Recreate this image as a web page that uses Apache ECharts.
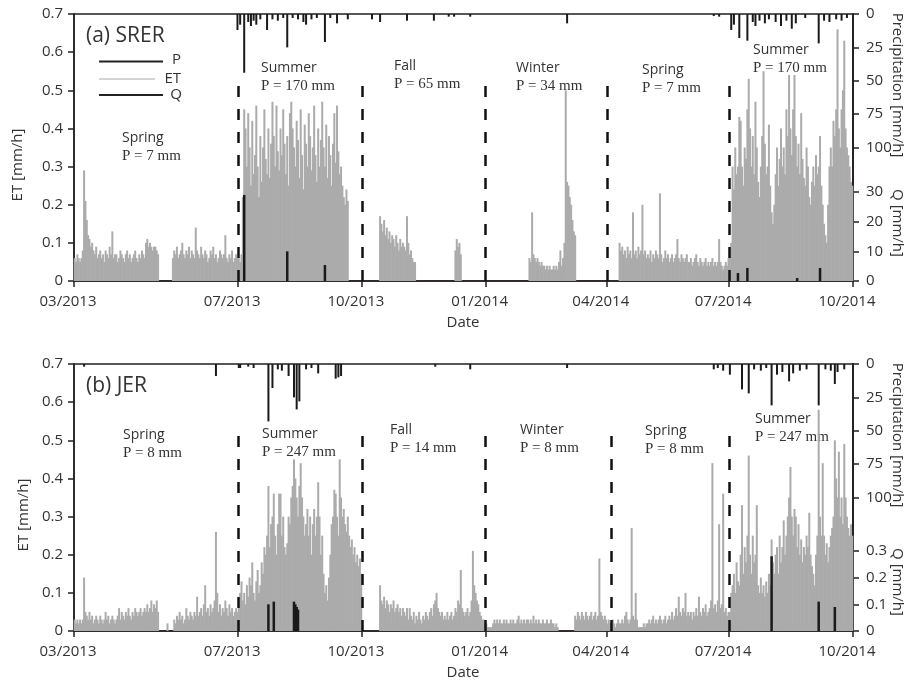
<!DOCTYPE html>
<html><head><meta charset="utf-8">
<script src="https://cdn.jsdelivr.net/npm/echarts@6/dist/echarts.min.js"></script>
<style>html,body{margin:0;padding:0;background:#fff}#c{width:912px;height:681px}</style>
</head><body><div id="c"></div><script>
// ---------- DATA ----------
const monthStarts = ['2013-03','2013-04','2013-05','2013-06','2013-07','2013-08','2013-09','2013-10','2013-11','2013-12',
  '2014-01','2014-02','2014-03','2014-04','2014-05','2014-06','2014-07','2014-08','2014-09'];
const xTickDates = ['2013-03-01','2013-07-01','2013-10-01','2014-01-01','2014-04-01','2014-07-01','2014-10-01'];
const N = null;
// daily peak ET [mm/h], SRER, one row per month
const etSRER = [
 [0.06,0.05,0.07,0.06,0.05,0.06,0.08,0.29,0.21,0.16,0.12,0.11,0.09,0.10,0.08,0.07,0.09,0.06,0.07,0.08,0.06,0.07,0.05,0.08,0.07,0.06,0.09,0.07,0.13,0.06,0.07],
 [0.07,0.05,0.06,0.08,0.07,0.06,0.05,0.07,0.08,0.06,0.07,0.05,0.06,0.07,0.08,0.06,0.05,0.07,0.06,0.08,0.07,0.06,0.10,0.11,0.09,0.10,0.09,0.08,0.09,0.09],
 [0.08,0.07,N,N,N,N,N,N,N,N,N,N,0.06,0.08,0.07,0.09,0.06,0.07,0.08,0.10,0.07,0.06,0.08,0.07,0.09,0.06,0.08,0.07,0.06,0.14,0.08],
 [0.07,0.06,0.09,0.07,0.06,0.08,0.07,0.05,0.06,0.08,0.07,0.09,0.06,0.07,0.05,0.06,0.08,0.07,0.06,0.07,0.12,0.06,0.05,0.07,0.06,0.08,0.05,0.06,0.07,0.06],
 [0.06,0.05,0.07,0.22,0.45,0.40,0.30,0.44,0.35,0.25,0.42,0.28,0.33,0.46,0.30,0.22,0.38,0.26,0.35,0.45,0.32,0.28,0.40,0.27,0.36,0.47,0.38,0.30,0.46,0.34,0.29],
 [0.40,0.33,0.45,0.36,0.28,0.38,0.25,0.44,0.47,0.40,0.35,0.30,0.42,0.37,0.27,0.45,0.33,0.24,0.41,0.36,0.30,0.44,0.38,0.29,0.35,0.46,0.33,0.26,0.40,0.30,0.37],
 [0.47,0.35,0.30,0.41,0.27,0.38,0.33,0.25,0.36,0.44,0.31,0.46,0.34,0.28,0.30,0.25,0.22,0.20,0.24,0.21],
 [N,N,N,N,N,N,N,N,N,N,N,N,N,0.17,0.15,0.13,0.16,0.12,0.14,0.11,0.13,0.10,0.12,0.11,0.09,0.12,0.10,0.08,0.11,0.09,0.10],
 [0.09,0.08,0.17,0.10,0.07,0.08,0.06,0.05,0.05],
 [N,N,N,N,N,N,N,N,0.08,0.11,0.09,0.10,0.07],
 [],
 [N,0.06,0.05,0.18,0.07,0.06,0.05,0.06,0.05,0.04,0.05,0.04,0.04,0.03,0.04,0.03,0.04,0.03,0.03,0.04,0.03,0.04,0.03,0.05,0.08,0.04,0.06,0.10],
 [0.50,0.26,0.25,0.22,0.20,0.16,0.13,0.12],
 [N,N,N,N,N,N,N,N,N,0.10,0.08,0.09,0.07,0.08,0.06,0.09,0.07,0.08,0.06,0.18,0.07,0.08,0.06,0.09,0.07,0.08,0.20,0.07,0.08,0.06],
 [0.07,0.06,0.08,0.05,0.07,0.06,0.08,0.07,0.06,0.23,0.07,0.05,0.06,0.08,0.06,0.07,0.05,0.06,0.07,0.05,0.06,0.07,0.11,0.06,0.05,0.07,0.06,0.05,0.06,0.07,0.05],
 [0.05,0.06,0.04,0.05,0.06,0.07,0.05,0.04,0.06,0.05,0.04,0.05,0.06,0.04,0.05,0.04,0.05,0.06,0.04,0.05,0.04,0.05,0.11,0.05,0.04,0.03,0.04,0.05,0.04,0.06],
 [0.07,0.10,0.30,0.24,0.35,0.28,0.30,0.43,0.42,0.30,0.25,0.35,0.32,0.45,0.53,0.40,0.30,0.38,0.28,0.47,0.35,0.26,0.22,0.30,0.38,0.55,0.36,0.28,0.30,0.41,0.25],
 [0.18,0.15,0.20,0.28,0.35,0.25,0.32,0.40,0.30,0.35,0.28,0.45,0.38,0.54,0.40,0.33,0.45,0.54,0.38,0.30,0.36,0.28,0.44,0.32,0.27,0.25,0.35,0.30,0.22,0.20,0.26],
 [0.30,0.25,0.33,0.28,0.30,0.38,0.25,0.20,0.15,0.12,0.10,0.20,0.30,0.35,0.30,0.42,0.38,0.45,0.66,0.40,0.35,0.45,0.50,0.63,0.40,0.35,0.33,0.30,0.26,0.25]
];
// daily peak ET [mm/h], JER
const etJER = [
 [0.03,0.02,0.03,0.02,0.03,0.02,0.03,0.14,0.05,0.04,0.03,0.05,0.03,0.04,0.02,0.03,0.04,0.03,0.02,0.04,0.03,0.02,0.03,0.05,0.03,0.04,0.02,0.03,0.04,0.03,0.02],
 [0.03,0.04,0.06,0.03,0.05,0.04,0.03,0.05,0.04,0.06,0.04,0.03,0.05,0.04,0.06,0.05,0.04,0.05,0.06,0.04,0.05,0.06,0.05,0.07,0.05,0.06,0.08,0.05,0.07,0.06],
 [0.08,0.05,N,N,N,N,N,N,0.02,N,N,N,N,0.03,0.02,0.04,0.03,0.05,0.03,0.04,0.02,0.03,0.06,0.04,0.03,0.05,0.04,0.03,0.05,0.04,0.09],
 [0.04,0.05,0.06,0.04,0.07,0.12,0.05,0.06,0.04,0.07,0.05,0.06,0.08,0.26,0.10,0.05,0.07,0.04,0.06,0.05,0.08,0.06,0.04,0.07,0.05,0.06,0.04,0.05,0.06,0.05],
 [0.06,0.10,0.13,0.08,0.10,0.07,0.12,0.09,0.14,0.12,0.18,0.10,0.08,0.13,0.16,0.10,0.12,0.18,0.15,0.22,0.20,0.25,0.38,0.22,0.28,0.30,0.36,0.25,0.20,0.28,0.36],
 [0.36,0.25,0.30,0.22,0.20,0.23,0.30,0.28,0.35,0.38,0.45,0.40,0.35,0.30,0.38,0.44,0.35,0.30,0.25,0.28,0.32,0.25,0.30,0.20,0.28,0.32,0.25,0.30,0.39,0.30,0.20],
 [0.25,0.15,0.10,0.12,0.08,0.14,0.20,0.28,0.30,0.37,0.36,0.30,0.25,0.45,0.35,0.30,0.32,0.28,0.26,0.30,0.25,0.22,0.24,0.20,0.22,0.18,0.20,0.17,0.19,0.15],
 [N,N,N,N,N,N,N,N,N,N,N,N,N,0.12,0.08,0.07,0.09,0.06,0.08,0.07,0.05,0.07,0.06,0.08,0.05,0.06,0.07,0.05,0.06,0.04,0.06],
 [0.05,0.04,0.06,0.03,0.06,0.04,0.03,0.05,0.02,0.04,0.03,0.05,0.03,0.02,0.04,0.03,0.05,0.04,0.03,0.05,0.06,0.04,0.07,0.08,0.10,0.06,0.05,0.04,0.05,0.03],
 [0.04,0.03,0.05,0.03,0.04,0.05,0.03,0.04,0.06,0.05,0.08,0.07,0.16,0.06,0.05,0.04,0.05,0.06,0.04,0.05,0.08,0.21,0.12,0.10,0.08,0.07,0.05,0.04,0.03,0.03,0.02],
 [0.02,0.01,0.01,0.01,0.01,0.02,0.03,0.02,0.03,0.02,0.03,0.02,0.02,0.03,0.02,0.03,0.02,0.02,0.03,0.02,0.03,0.02,0.02,0.03,0.04,0.02,0.03,0.02,0.03,0.02,0.03],
 [0.03,0.02,0.03,0.02,0.04,0.02,0.03,0.02,0.03,0.02,0.02,0.03,0.02,0.02,0.03,0.02,0.02,0.03,0.02,0.02,0.01,0.02,0.01],
 [N,N,N,N,N,N,N,0.04,0.03,0.05,0.04,0.03,0.05,0.04,0.03,0.05,0.04,0.03,0.04,0.05,0.03,0.04,0.05,0.03,0.04,0.19,0.05,0.04,0.03,0.04,0.03],
 [0.02,0.03,0.02,0.02,0.03,0.02,0.01,0.02,0.03,0.02,0.02,0.03,0.02,0.04,0.05,0.03,0.02,0.03,0.27,0.04,0.03,0.10,0.03,0.01,0.01,0.01,0.01,0.02,0.01,0.02],
 [0.02,0.03,0.02,0.03,0.04,0.02,0.03,0.02,0.03,0.04,0.03,0.02,0.03,0.04,0.02,0.03,0.04,0.03,0.05,0.03,0.04,0.06,0.04,0.09,0.05,0.04,0.06,0.05,0.10,0.04,0.05],
 [0.04,0.05,0.03,0.05,0.04,0.06,0.04,0.09,0.05,0.04,0.06,0.05,0.07,0.04,0.05,0.06,0.08,0.44,0.06,0.07,0.05,0.08,0.28,0.06,0.07,0.36,0.05,0.06,0.04,0.05],
 [0.05,0.10,0.12,0.15,0.10,0.18,0.13,0.12,0.20,0.33,0.15,0.22,0.18,0.25,0.46,0.20,0.15,0.25,0.18,0.20,0.33,0.12,0.10,0.14,0.10,0.12,0.09,0.13,0.10,0.15,0.12],
 [0.24,0.18,0.15,0.20,0.22,0.15,0.25,0.18,0.22,0.29,0.20,0.25,0.30,0.35,0.43,0.30,0.25,0.32,0.30,0.22,0.28,0.20,0.24,0.18,0.22,0.20,0.25,0.22,0.31,0.20,0.17],
 [0.15,0.12,0.20,0.25,0.58,0.30,0.25,0.44,0.25,0.20,0.23,0.18,0.22,0.25,0.27,0.30,0.50,0.40,0.35,0.47,0.30,0.35,0.28,0.49,0.35,0.30,0.27,0.25,0.28,0.25]
];
// hourly precipitation peaks [mm/h]
const precipSRER = [['2013-06-30',12],['2013-07-02',8],['2013-07-05',44],['2013-07-08',6],['2013-07-10',9],['2013-07-12',5],['2013-07-14',8],['2013-07-17',4],['2013-07-22',12],['2013-07-26',4],['2013-07-30',5],['2013-08-03',3],['2013-08-06',25],['2013-08-10',3],['2013-08-14',4],['2013-08-18',6],['2013-08-20',8],['2013-08-24',4],['2013-08-28',3],['2013-09-03',21],['2013-09-07',3],['2013-09-12',7],['2013-09-20',4],['2013-10-08',4],['2013-10-14',6],['2013-11-03',5],['2013-11-23',5],['2013-12-04',2],['2013-12-08',2],['2013-12-20',2],['2014-03-02',7],['2014-06-19',1.5],['2014-06-23',2],['2014-07-02',12],['2014-07-04',8],['2014-07-08',18],['2014-07-14',20],['2014-07-18',6],['2014-07-20',9],['2014-07-23',5],['2014-07-27',7],['2014-07-30',4],['2014-08-04',6],['2014-08-08',9],['2014-08-12',5],['2014-08-16',11],['2014-08-19',7],['2014-08-26',3],['2014-09-05',22],['2014-09-09',5],['2014-09-13',6],['2014-09-18',4],['2014-09-22',5],['2014-09-26',3]];
const precipJER = [['2013-03-08',2],['2013-06-14',9],['2013-07-01',3],['2013-07-02',3],['2013-07-08',2],['2013-07-12',3],['2013-07-23',43],['2013-07-26',18],['2013-07-30',4],['2013-08-02',5],['2013-08-07',9],['2013-08-11',25],['2013-08-13',34],['2013-08-15',28],['2013-08-20',4],['2013-08-24',3],['2013-08-29',7],['2013-09-11',11],['2013-09-13',10],['2013-09-15',9],['2013-11-24',2],['2013-12-20',4],['2014-03-02',3],['2014-06-19',4],['2014-06-22',3],['2014-06-26',5],['2014-07-01',8],['2014-07-10',19],['2014-07-15',22],['2014-07-19',4],['2014-07-24',5],['2014-07-28',3],['2014-08-01',31],['2014-08-05',8],['2014-08-09',6],['2014-08-14',13],['2014-08-17',7],['2014-08-22',5],['2014-08-27',4],['2014-09-05',31],['2014-09-10',4],['2014-09-14',5],['2014-09-17',15],['2014-09-19',6],['2014-09-24',4]];
// runoff Q [mm/h]
const qSRER = [['2013-07-05',29],['2013-08-06',10],['2013-09-03',5.4],['2014-07-07',2.7],['2014-07-14',4.4],['2014-08-20',1],['2014-09-06',4.4]];
const qJER = [['2013-07-23',0.10],['2013-07-27',0.11],['2013-08-11',0.11],['2013-08-12',0.10],['2013-08-13',0.09],['2013-08-14',0.08],['2014-08-01',0.28],['2014-09-05',0.11],['2014-09-17',0.09]];
// season boundaries and labels
const boundsSRER = ['2013-07-01','2013-10-01','2014-01-01','2014-04-01','2014-07-01'];
const boundsJER = ['2013-07-01','2013-10-01','2014-01-01','2014-04-04','2014-07-01'];
const seasonNames = ['Spring','Summer','Fall','Winter','Spring','Summer'];
const seasonPSRER = ['P = 7 mm','P = 170 mm','P = 65 mm','P = 34 mm','P = 7 mm','P = 170 mm'];
const seasonPJER = ['P = 8 mm','P = 247 mm','P = 14 mm','P = 8 mm','P = 8 mm','P = 247 mm'];
const precipTicks = [0,25,50,75,100];
const qTicksSRER = [0,10,20,30];
const qTicksJER = [0,0.1,0.2,0.3];

// ---------- helpers ----------
function ts(s){const p=s.split('-').map(Number);return new Date(p[0],p[1]-1,p[2]||1).getTime();}
function noon(s){const p=s.split('-').map(Number);return new Date(p[0],p[1]-1,p[2],12).getTime();}
function etData(rows){
  const out=[];
  rows.forEach((row,k)=>{const p=monthStarts[k].split('-').map(Number);
    row.forEach((v,d)=>{ if(v!==null) out.push([new Date(p[0],p[1]-1,d+1,12).getTime(),v]); });});
  return out;
}
function evData(list){return list.map(e=>[noon(e[0]),e[1]]);}
const xMin=ts('2013-03-01'), xMax=ts('2014-10-01');
const xTicks=xTickDates.map(ts);
const AX='#231f20', TXT='#333';
const FONT='"Open Sans", "Noto Sans", sans-serif';
const SERIF='"Liberation Serif", "DejaVu Serif", serif';
function fmtNum(v){return v===0?'0':(Math.abs(v)<1?v.toFixed(1):String(v));}

function xAx(g,show){
  return {type:'value',gridIndex:g,min:xMin,max:xMax,show:show,
    axisLine:{show:true,onZero:false,lineStyle:{color:AX,width:1.5}},
    axisTick:{show:true,customValues:xTicks,length:6,lineStyle:{color:AX,width:1.5}},
    axisLabel:{customValues:xTicks,color:TXT,fontSize:15,fontFamily:FONT,margin:13,padding:[0,12,0,0],
      formatter:v=>{const d=new Date(v);return String(d.getMonth()+1).padStart(2,'0')+'/'+d.getFullYear();}},
    splitLine:{show:false}};
}
function yLeft(g){
  return {type:'value',gridIndex:g,min:0,max:0.7,interval:0.1,
    axisLine:{show:true,onZero:false,lineStyle:{color:AX,width:1.5}},
    axisTick:{show:true,length:6,lineStyle:{color:AX,width:1.5}},
    axisLabel:{color:TXT,fontSize:15,fontFamily:FONT,margin:11,formatter:fmtNum},
    splitLine:{show:false}};
}
function yRight(g,max,ticks,inverse){
  return {type:'value',gridIndex:g,position:'right',min:0,max:max,inverse:inverse,
    axisLine:{show:true,onZero:false,lineStyle:{color:AX,width:1.5}},
    axisTick:{show:true,length:6,customValues:ticks,lineStyle:{color:AX,width:1.5}},
    axisLabel:{show:true,customValues:ticks,color:TXT,fontSize:15,fontFamily:FONT,margin:13,formatter:fmtNum},
    splitLine:{show:false}};
}
function bounds(list){
  return list.map(d=>[{coord:[ts(d),0]},{coord:[ts(d),0.53]}]);
}
function panelSeries(base,et,pr,q,bd){
  return [
    {type:'bar',name:'ET',xAxisIndex:base,yAxisIndex:base,data:etData(et),barWidth:2,
     itemStyle:{color:'#ababab'},silent:true,
     markLine:{silent:true,symbol:['none','none'],z:6,label:{show:false},
       lineStyle:{color:'#111',width:2.5,type:[11,12]},data:bounds(bd)}},
    {type:'bar',name:'P',xAxisIndex:base+1,yAxisIndex:base+1,data:evData(pr),barWidth:2,
     itemStyle:{color:'#1a1a1a'},silent:true,z:3},
    {type:'bar',name:'Q',xAxisIndex:base+2,yAxisIndex:base+2,data:evData(q),barWidth:2.5,
     itemStyle:{color:'#1a1a1a'},silent:true,z:4}
  ];
}

// ---------- annotations ----------
const G=[];
function txt(x,y,t,font,opt){G.push(Object.assign({type:'text',x:x,y:y,silent:true,
  style:{text:t,font:font,fill:TXT,verticalAlign:'middle',align:'left'}},opt||{}));}
function seasonLabels(pos,ps){
  pos.forEach((p,i)=>{txt(p[0],p[1],seasonNames[i],'14px '+FONT);txt(p[0],p[1]+18,ps[i],'15px '+SERIF);});
}
txt(86,36,'(a) SRER','21px '+FONT);
txt(86,386,'(b) JER','21px '+FONT);
// legend
G.push({type:'line',silent:true,shape:{x1:99,y1:61.5,x2:163,y2:61.5},style:{stroke:'#222',lineWidth:2}});
G.push({type:'line',silent:true,shape:{x1:99,y1:79,x2:155,y2:79},style:{stroke:'#aaa',lineWidth:1}});
G.push({type:'line',silent:true,shape:{x1:99,y1:95,x2:163,y2:95},style:{stroke:'#222',lineWidth:2}});
G.push({type:'text',x:181,y:60,silent:true,style:{text:'P',font:'15px '+FONT,fill:TXT,align:'right',verticalAlign:'middle'}});
G.push({type:'text',x:181,y:79,silent:true,style:{text:'ET',font:'15px '+FONT,fill:TXT,align:'right',verticalAlign:'middle'}});
G.push({type:'text',x:182,y:95,silent:true,style:{text:'Q',font:'15px '+FONT,fill:TXT,align:'right',verticalAlign:'middle'}});
seasonLabels([[122,138],[261,68],[394,66],[516,68],[642,70],[753,50]],seasonPSRER);
seasonLabels([[123,435],[262,434],[390,430],[520,430],[645,431],[755,419]],seasonPJER);
// axis names
function rot(x,y,t,r){G.push({type:'text',x:x,y:y,rotation:r,silent:true,
  style:{text:t,font:'15px '+FONT,fill:TXT,align:'center',verticalAlign:'middle'}});}
rot(18,165,'ET [mm/h]',Math.PI/2);
rot(24,515,'ET [mm/h]',Math.PI/2);
rot(897,85,'Precipitation [mm/h]',-Math.PI/2);
rot(897,223,'Q [mm/h]',-Math.PI/2);
rot(897,435,'Precipitation [mm/h]',-Math.PI/2);
rot(897,582,'Q [mm/h]',-Math.PI/2);
rot(463,323,'Date',0);
rot(463,673,'Date',0);

const chart=echarts.init(document.getElementById('c'),null,{renderer:'canvas'});
chart.setOption({
  animation:false,backgroundColor:'#fff',
  grid:[{left:74,right:59,top:14,height:267,show:true,borderColor:AX,borderWidth:1.5,backgroundColor:'transparent'},
        {left:74,right:59,top:364,height:267,show:true,borderColor:AX,borderWidth:1.5,backgroundColor:'transparent'}],
  xAxis:[xAx(0,true),xAx(0,false),xAx(0,false),xAx(1,true),xAx(1,false),xAx(1,false)],
  yAxis:[yLeft(0),yRight(0,200,precipTicks,true),yRight(0,90,qTicksSRER,false),
         yLeft(1),yRight(1,200,precipTicks,true),yRight(1,1,qTicksJER,false)],
  series:[].concat(panelSeries(0,etSRER,precipSRER,qSRER,boundsSRER),panelSeries(3,etJER,precipJER,qJER,boundsJER)),
  graphic:G
});
</script></body></html>
